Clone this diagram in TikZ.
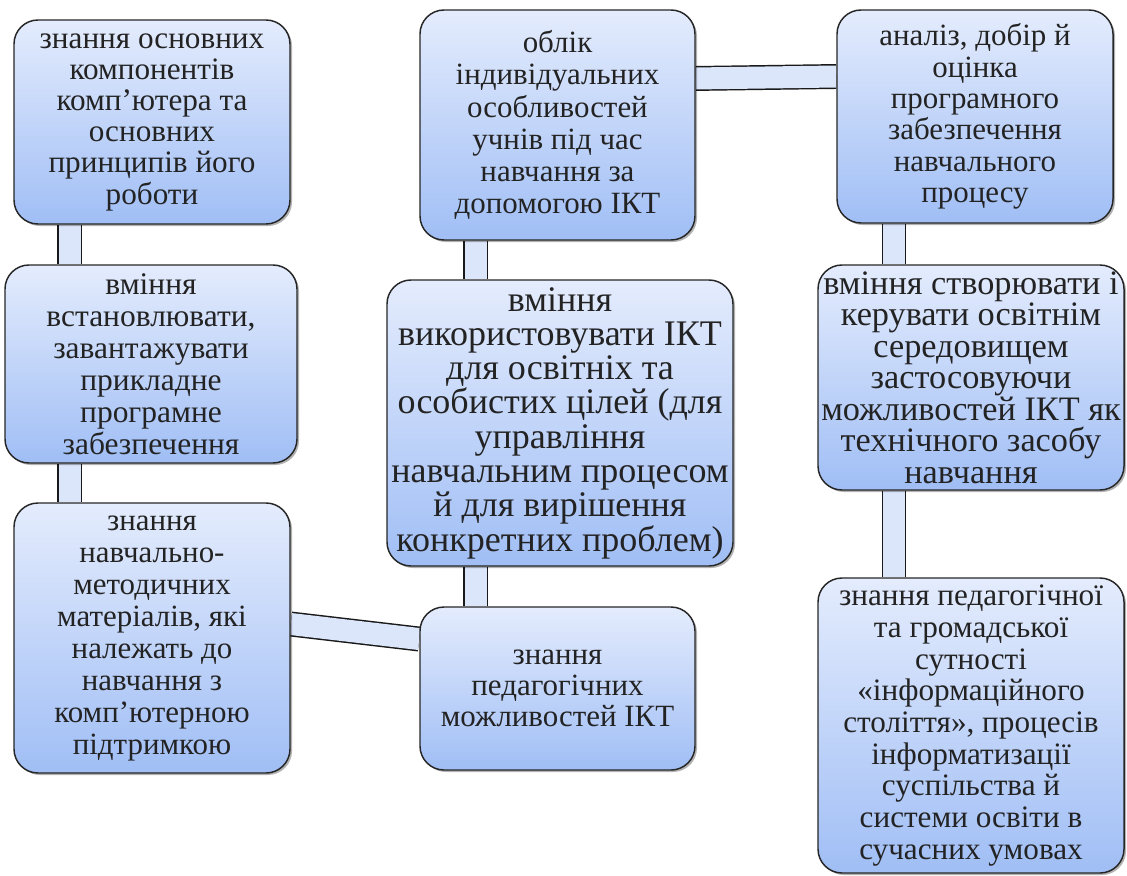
\documentclass[tikz,border=0pt]{standalone}
\usepackage{fontspec}
\setmainfont{Liberation Serif}
\usetikzlibrary{shadows}
\definecolor{boxtop}{RGB}{228,236,253}
\definecolor{boxbot}{RGB}{160,190,245}
\definecolor{barfill}{RGB}{220,230,251}
\definecolor{txt}{RGB}{35,35,35}
\pgfdeclarelayer{bg}
\pgfsetlayers{bg,main}

\begin{document}
\begin{tikzpicture}[x=0.75pt, y=-0.75pt,
    skill/.style={rectangle, rounded corners=18pt, draw=black!85, line width=1.1pt,
        top color=boxtop, bottom color=boxbot, align=center, text=txt, inner sep=1.5pt,
        font=\fontsize{23.4}{23.4}\selectfont,
        drop shadow={shadow xshift=1.5pt, shadow yshift=-1.5pt, opacity=0.3, fill=black}},
    link/.style={draw=black!90, line width=1.1pt, double=barfill, double distance=16.5pt}]
    \useasboundingbox (0,0) rectangle (1127,875);

    % left column
    \node[skill, minimum width=207pt, minimum height=153pt] (b1) at (152,122)
        {знання основних\\компонентів\\комп’ютера та\\основних\\принципів його\\роботи};
    \node[skill, minimum width=219pt, minimum height=148.5pt, font=\fontsize{23.6}{24}\selectfont] (b2) at (151,364)
        {вміння\\встановлювати,\\завантажувати\\прикладне\\програмне\\забезпечення};
    \node[skill, minimum width=207pt, minimum height=202.5pt, font=\fontsize{23.2}{24}\selectfont] (b3) at (152,638)
        {знання\\навчально-\\методичних\\матеріалів, які\\належать до\\навчання з\\комп’ютерною\\підтримкою};

    % middle column
    \node[skill, minimum width=206.25pt, minimum height=172.5pt, font=\fontsize{23.2}{24.1}\selectfont] (b4) at (557.5,125)
        {облік\\індивідуальних\\особливостей\\учнів під час\\навчання за\\допомогою ІКТ};
    \node[skill, minimum width=259.5pt, minimum height=214.5pt, font=\fontsize{27}{25.7}\selectfont] (b5) at (560,423)
        {вміння\\використовувати ІКТ\\для освітніх та\\особистих цілей (для\\управління\\навчальним процесом\\й для вирішення\\конкретних проблем)};
    \node[skill, minimum width=206.25pt, minimum height=122.25pt, font=\fontsize{23.2}{23.3}\selectfont] (b6) at (557.5,688.5)
        {знання\\педагогічних\\можливостей ІКТ};

    % right column
    \node[skill, minimum width=207pt, minimum height=159.75pt, font=\fontsize{23.2}{23.5}\selectfont] (b7) at (975,116.5)
        {аналіз, добір й\\оцінка\\програмного\\забезпечення\\навчального\\процесу};
    \node[skill, minimum width=229.5pt, minimum height=168.75pt, font=\fontsize{25.7}{23.6}\selectfont] (b8) at (971,377.5)
        {вміння створювати і\\керувати освітнім\\середовищем\\застосовуючи\\можливостей ІКТ як\\технічного засобу\\навчання};
    \node[skill, minimum width=229.5pt, minimum height=221.25pt, font=\fontsize{23.4}{23.8}\selectfont] (b9) at (971,725.5)
        {знання педагогічної\\та громадської\\сутності\\«інформаційного\\століття», процесів\\інформатизації\\суспільства й\\системи освіти в\\сучасних умовах};

    \coordinate (xl) at (69.5,0);  % left bars
    \coordinate (xm) at (475.5,0); % middle bars
    \coordinate (xr) at (894,0);   % right bars

    \begin{pgfonlayer}{bg}
    \draw[link] (b1.south -| xl) -- (b2.north -| xl);
    \draw[link] (b2.south -| xl) -- (b3.north -| xl);
    \draw[link] (b4.south -| xm) -- (b5.north -| xm);
    \draw[link] (b5.south -| xm) -- (b6.north -| xm);
    \draw[link] (b7.south -| xr) -- (b8.north -| xr);
    \draw[link] (b8.south -| xr) -- (b9.north -| xr);
    \draw[link] ([yshift=34.9pt]b4.east) -- ([yshift=30pt]b7.west);
    \draw[link] ([yshift=10.5pt]b3.east) -- ([yshift=37.1pt]b6.west);
    \end{pgfonlayer}
\end{tikzpicture}
\end{document}
